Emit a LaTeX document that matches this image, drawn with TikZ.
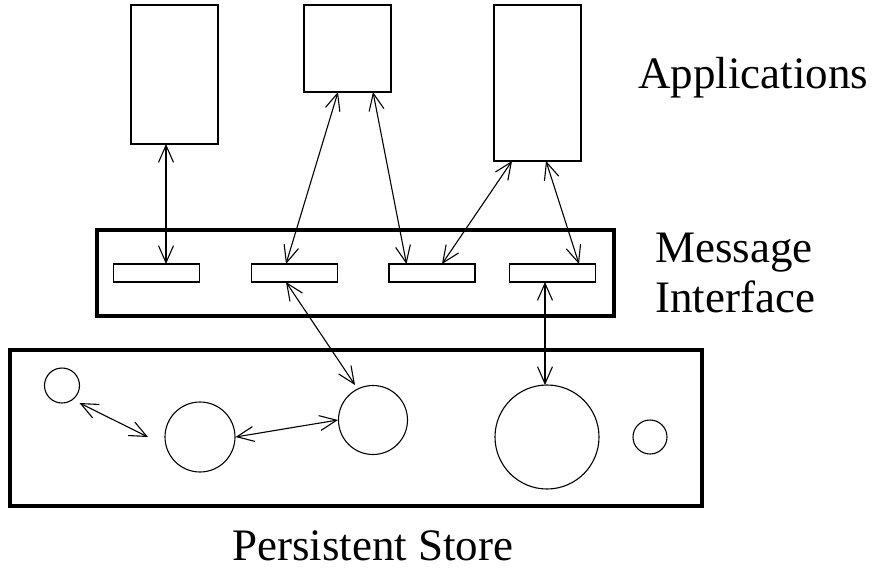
\documentclass[tikz,border=0pt]{standalone}
\usepackage{fontspec}
\setmainfont{Liberation Serif}
\usetikzlibrary{arrows.meta}
\begin{document}
\begin{tikzpicture}[x=1pt,y=-1pt,
  appbox/.style={draw, line width=1.2pt, rectangle, inner sep=0pt},
  slotbox/.style={draw, line width=1.2pt, rectangle, inner sep=0pt, minimum width=86pt, minimum height=18pt},
  bigbox/.style={draw, line width=4pt, rectangle, inner sep=0pt},
  obj/.style={draw, line width=1.1pt, circle, inner sep=0pt},
  link/.style={line width=1.1pt, {Straight Barb[length=17pt,width=15pt]}-{Straight Barb[length=17pt,width=15pt]}},
  lbl/.style={anchor=base west, inner sep=0pt, font=\fontsize{45}{50}\selectfont}]
\useasboundingbox (0,0) rectangle (873,573);
% applications
\node[appbox, minimum width=87pt, minimum height=139pt] (app1) at (174.5,74.5) {};
\node[appbox, minimum width=87pt, minimum height=87pt] (app2) at (347.5,48.5) {};
\node[appbox, minimum width=87pt, minimum height=156pt] (app3) at (537.5,83) {};
% message interface
\node[bigbox, minimum width=517pt, minimum height=86pt] (mi) at (355.5,273) {};
\node[slotbox] (s1) at (156.5,273) {};
\node[slotbox] (s2) at (294.5,273) {};
\node[slotbox] (s3) at (432,273) {};
\node[slotbox] (s4) at (552.5,273) {};
% persistent store
\node[bigbox, minimum width=692pt, minimum height=156pt] (ps) at (356,428) {};
\node[obj, minimum size=35pt] (c1) at (62,385.5) {};
\node[obj, minimum size=70pt] (c2) at (200,437) {};
\node[obj, minimum size=69pt] (c3) at (373,420) {};
\node[obj, minimum size=104pt] (c4) at (547,437) {};
\node[obj, minimum size=34pt] (c5) at (650,437) {};
% attachment points
\coordinate (a1) at (166,144);
\coordinate (a2l) at (338,92);
\coordinate (a2r) at (373,92);
\coordinate (a3l) at (512,161);
\coordinate (a3r) at (546,161);
\coordinate (s1t) at (166,264);
\coordinate (s2t) at (286,264);
\coordinate (s3tl) at (406.5,264);
\coordinate (s3tr) at (442,264);
\coordinate (s4t) at (579,264);
\coordinate (s2b) at (286,282);
\coordinate (s4b) at (545,282);
\coordinate (c1e) at (79.5,403);
\coordinate (c2w) at (148,437);
\coordinate (c3t) at (355,385);
\coordinate (c4t) at (545,385);
% connectors
\draw[link] (a1) -- (s1t);
\draw[link] (a2l) -- (s2t);
\draw[link] (a2r) -- (s3tl);
\draw[link] (a3l) -- (s3tr);
\draw[link] (a3r) -- (s4t);
\draw[link] (s2b) -- (c3t);
\draw[link] (s4b) -- (c4t);
\draw[link] (c1e) -- (c2w);
\draw[link] (c2.east) -- (c3.west);
% labels
\node[lbl] (lapp) at (638,88) {Applications};
\node[lbl] (lmsg) at (655,262) {Message};
\node[lbl] (lint) at (655,312) {Interface};
\node[lbl] (lps) at (232,560) {Persistent Store};
\end{tikzpicture}
\end{document}
